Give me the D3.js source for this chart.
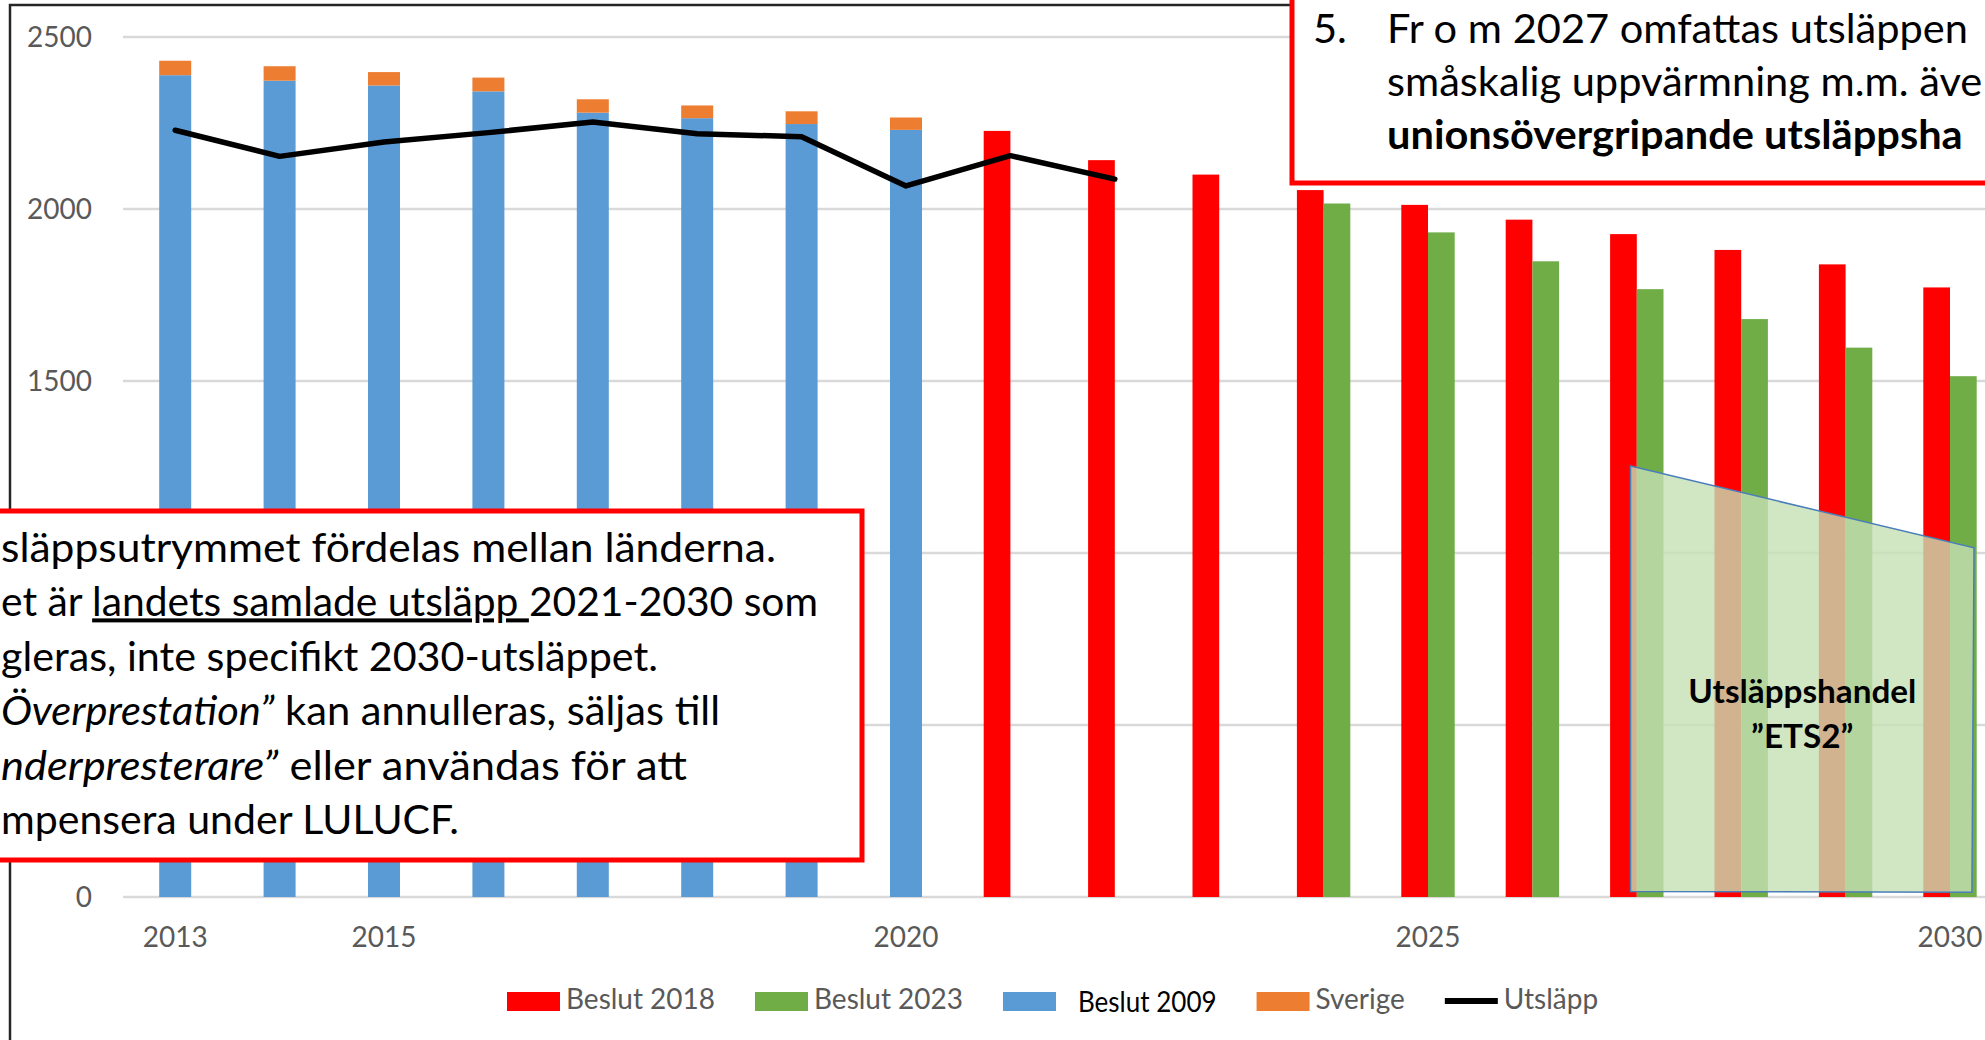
<!DOCTYPE html>
<html>
<head>
<meta charset="utf-8">
<script src="https://cdn.jsdelivr.net/npm/d3@7"></script>
<style>
  body { margin: 0; background: #fff; }
  svg { display: block; font-family: Lato, "Open Sans", sans-serif; }
</style>
</head>
<body>
<div id="chart"></div>
<script>
// data
var years = [2013, 2014, 2015, 2016, 2017, 2018, 2019, 2020, 2021, 2022, 2023, 2024, 2025, 2026, 2027, 2028, 2029, 2030];
var yTicks = [0, 500, 1000, 1500, 2000, 2500];
var xTickYears = [2013, 2015, 2020, 2025, 2030];

var years2009 = [2013, 2014, 2015, 2016, 2017, 2018, 2019, 2020];
var beslut2009 = [2389, 2373, 2359, 2342, 2280, 2264, 2247, 2230];
var sverige = [42, 42, 39, 40, 39, 37, 37, 36];

var years2018 = [2021, 2022, 2023, 2024, 2025, 2026, 2027, 2028, 2029, 2030];
var beslut2018 = [2227, 2142, 2100, 2055, 2012, 1969, 1927, 1881, 1839, 1772];

var years2023 = [2024, 2025, 2026, 2027, 2028, 2029, 2030];
var beslut2023 = [2016, 1932, 1848, 1767, 1680, 1597, 1514];

var yearsUtslapp = [2013, 2014, 2015, 2016, 2017, 2018, 2019, 2020, 2021, 2022];
var utslapp = [2229, 2153, 2195, 2222, 2253, 2219, 2210, 2067, 2155, 2087];

// ETS2 area corners (year, value)
var ets2Years = [2026.94, 2030.23, 2030.21, 2026.94];
var ets2Values = [1253, 1015, 14, 16];

var legendLabels = ['Beslut 2018', 'Beslut 2023', 'Beslut 2009', 'Sverige', 'Utsläpp'];

var noteLeft = [
  [{t: 'Utsläppsutrymmet fördelas mellan länderna.'}],
  [{t: 'Det är '}, {t: 'landets samlade utsläpp ', u: true}, {t: '2021-2030 som'}],
  [{t: 'regleras, inte specifikt 2030-utsläppet.'}],
  [{t: '\u201DÖverprestation\u201D', i: true}, {t: ' kan annulleras, säljas till'}],
  [{t: '\u201Dunderpresterare\u201D', i: true}, {t: ' eller användas för att'}],
  [{t: 'kompensera under LULUCF.'}]
];
// leading characters that fall outside the picture's left edge
var noteLeftCut = [2, 1, 2, 1, 2, 2];
var noteRight = [
  [{t: 'Fr o m 2027 omfattas utsläppen från'}],
  [{t: 'småskalig uppvärmning m.m. även av'}],
  [{t: 'unionsövergripande utsläppshandel', b: true}]
];

// colors
var c2018 = '#ff0000', c2023 = '#70ad47', c2009 = '#5b9bd5', cSve = '#ed7d31';
var textGray = '#595959';

// set-up
var W = 1985, H = 1040;
var svg = d3.select('#chart').append('svg')
    .attr('width', W).attr('height', H)
    .style('overflow', 'hidden');

var x = d3.scaleBand().domain(years).range([123, 123 + 104.4 * years.length]);
var y = d3.scaleLinear().domain([0, 2500]).range([897, 37]);
function xc(yr) { return x(yr) + x.bandwidth() / 2; }
var xYear = d3.scaleLinear().domain([2013, 2030]).range([xc(2013), xc(2030)]);

// width factors to mimic the narrow Calibri look
function widthFactor(str, size, target) {
  var p = svg.append('text').attr('font-size', size).text(str);
  var f = target / p.node().getComputedTextLength();
  p.remove();
  return f;
}
var K = widthFactor('Fr o m 2027 omfattas utsläppen', 40, 581);
var KL = widthFactor('Beslut 2018', 28, 149);

function fit(sel, ax, anchor, k) {
  k = k || K;
  sel.each(function() {
    var s = d3.select(this).attr('textLength', null).attr('lengthAdjust', null);
    var w = this.getComputedTextLength();
    var L = w * k;
    var x0 = anchor === 'end' ? ax - L : anchor === 'middle' ? ax - L / 2 : ax;
    s.attr('x', x0).attr('text-anchor', 'start')
      .attr('textLength', L).attr('lengthAdjust', 'spacingAndGlyphs');
  });
}

// outer frame
svg.append('rect').attr('x', 10).attr('y', 5).attr('width', 2200).attr('height', 1200)
    .attr('fill', 'none').attr('stroke', '#262626').attr('stroke-width', 2.5);

// grid
svg.append('g').selectAll('line').data(yTicks).enter().append('line')
    .attr('x1', 123).attr('x2', W + 10)
    .attr('y1', function(d) { return y(d); }).attr('y2', function(d) { return y(d); })
    .attr('stroke', '#d9d9d9').attr('stroke-width', 2.5);

// stacked bars (Beslut 2009 + Sverige)
var stackData = years2009.map(function(yr, i) {
  return {year: yr, beslut2009: beslut2009[i], sverige: sverige[i]};
});
var stacked = d3.stack().keys(['beslut2009', 'sverige'])(stackData);
var stackColor = {beslut2009: c2009, sverige: cSve};
var sw = 32;
svg.append('g').selectAll('g').data(stacked).enter().append('g')
    .attr('fill', function(d) { return stackColor[d.key]; })
  .selectAll('rect').data(function(d) { return d; }).enter().append('rect')
    .attr('x', function(d) { return xc(d.data.year) - sw / 2; })
    .attr('width', sw)
    .attr('y', function(d) { return y(d[1]); })
    .attr('height', function(d) { return y(d[0]) - y(d[1]); });

// clustered bars (Beslut 2018, Beslut 2023)
var clusterData = [];
years2018.forEach(function(yr, i) {
  clusterData.push({year: yr, key: 'beslut2018', v: beslut2018[i]});
});
years2023.forEach(function(yr, i) {
  clusterData.push({year: yr, key: 'beslut2023', v: beslut2023[i]});
});
var xs = d3.scaleBand().domain(['beslut2018', 'beslut2023']).range([-26.7, 26.7]);
var clusterColor = {beslut2018: c2018, beslut2023: c2023};
svg.append('g').selectAll('rect').data(clusterData).enter().append('rect')
    .attr('x', function(d) { return xc(d.year) + xs(d.key); })
    .attr('width', xs.bandwidth())
    .attr('y', function(d) { return y(d.v); })
    .attr('height', function(d) { return y(0) - y(d.v); })
    .attr('fill', function(d) { return clusterColor[d.key]; });

// Utsläpp line
var lineData = yearsUtslapp.map(function(yr, i) { return {year: yr, v: utslapp[i]}; });
svg.append('path').datum(lineData)
    .attr('d', d3.line().x(function(d) { return xc(d.year); }).y(function(d) { return y(d.v); }))
    .attr('fill', 'none').attr('stroke', '#000').attr('stroke-width', 5.5)
    .attr('stroke-linejoin', 'round').attr('stroke-linecap', 'round');

// ETS2 area
var ets2 = ets2Years.map(function(yr, i) { return [xYear(yr), y(ets2Values[i])]; });
svg.append('polygon')
    .attr('points', ets2.map(function(p) { return p.join(','); }).join(' '))
    .attr('fill', '#c5e0b4').attr('fill-opacity', 0.8)
    .attr('stroke', '#4a7ebb').attr('stroke-width', 1.5);
var ets2Cx = (xYear(ets2Years[0]) + xYear(ets2Years[1])) / 2;
['Utsläppshandel', '\u201DETS2\u201D'].forEach(function(t, i) {
  svg.append('text').attr('y', 703 + i * 45).attr('font-size', 32).attr('font-weight', 700)
      .attr('fill', '#000').text(t).call(fit, ets2Cx, 'middle');
});

// annotation boxes (the left one covers part of the y axis)
var boxL = {x: -20, y: 511, w: 882, h: 349};
var boxR = {x: 1292, y: -20, w: 800, h: 203};

// axis labels (the ones under the left box are hidden there)
var yLabelTicks = yTicks.filter(function(d) { return y(d) < boxL.y || y(d) > boxL.y + boxL.h; });
svg.append('g').selectAll('text').data(yLabelTicks).enter().append('text')
    .attr('y', function(d) { return y(d) + 10; })
    .attr('font-size', 28).attr('fill', textGray)
    .text(function(d) { return d; })
    .each(function(d) { d3.select(this).call(fit, 92, 'end', KL); });

svg.append('g').selectAll('text').data(xTickYears).enter().append('text')
    .attr('y', 947)
    .attr('font-size', 28).attr('fill', textGray)
    .text(function(d) { return d; })
    .each(function(d) { d3.select(this).call(fit, xc(d), 'middle', KL); });

function noteLine(g, segs, yy, size) {
  var t = g.append('text').attr('y', yy).attr('font-size', size).attr('fill', '#000');
  segs.forEach(function(s) {
    var ts = t.append('tspan').text(s.t);
    if (s.i) ts.attr('font-style', 'italic');
    if (s.b) ts.attr('font-weight', 700);
    if (s.u) ts.attr('text-decoration', 'underline');
  });
  return t;
}
function dropLeading(segs, n) {
  return segs.map(function(s) {
    var c = Object.assign({}, s);
    var k = Math.min(n, c.t.length);
    c.t = c.t.slice(k);
    n -= k;
    return c;
  });
}
// only the part of a line that lies inside the picture is shown
function trimEnd(t, start) {
  t.call(fit, start, 'start');
  var guard = 0;
  while (start + +t.attr('textLength') > W - 1 && guard++ < 60) {
    var spans = t.selectAll('tspan').filter(function() { return this.textContent.length > 0; }).nodes();
    if (!spans.length) break;
    var last = d3.select(spans[spans.length - 1]);
    last.text(last.text().slice(0, -1));
    t.call(fit, start, 'start');
  }
}

var gl = svg.append('g');
gl.append('rect').attr('x', boxL.x).attr('y', boxL.y).attr('width', boxL.w).attr('height', boxL.h)
    .attr('fill', '#fff').attr('stroke', '#ff0000').attr('stroke-width', 5);
var leftEnds = [776, 818, 658, 720, 687, 459];
noteLeft.forEach(function(segs, i) {
  noteLine(gl, dropLeading(segs, noteLeftCut[i]), 562 + i * 54.4, 40)
      .attr('x', 1).attr('textLength', leftEnds[i] - 1).attr('lengthAdjust', 'spacingAndGlyphs');
});

var gr = svg.append('g');
gr.append('rect').attr('x', boxR.x).attr('y', boxR.y).attr('width', boxR.w).attr('height', boxR.h)
    .attr('fill', '#fff').attr('stroke', '#ff0000').attr('stroke-width', 5);
gr.append('text').attr('y', 43).attr('font-size', 40).attr('fill', '#000').text('5.').call(fit, 1313, 'start');
noteRight.forEach(function(segs, i) {
  trimEnd(noteLine(gr, segs, 43 + i * 53, 40), 1387);
});

// legend
var legendColor = [c2018, c2023, c2009, cSve, '#000'];
var lx = 507;
legendLabels.forEach(function(lab, i) {
  var isLine = lab === 'Utsläpp';
  if (isLine) {
    svg.append('line').attr('x1', lx).attr('x2', lx + 53).attr('y1', 1001).attr('y2', 1001)
        .attr('stroke', '#000').attr('stroke-width', 6);
  } else {
    svg.append('rect').attr('x', lx).attr('y', 992).attr('width', 53).attr('height', 19)
        .attr('fill', legendColor[i]);
  }
  var odd = lab === 'Beslut 2009';
  var t = svg.append('text').attr('y', odd ? 1012 : 1009).attr('font-size', 28)
      .attr('fill', odd ? '#000' : textGray).text(lab)
      .call(fit, lx + 53 + (odd ? 22 : 6), 'start', odd ? KL * 0.93 : KL);
  lx = +t.attr('x') + +t.attr('textLength') + 40;
});
</script>
</body>
</html>
